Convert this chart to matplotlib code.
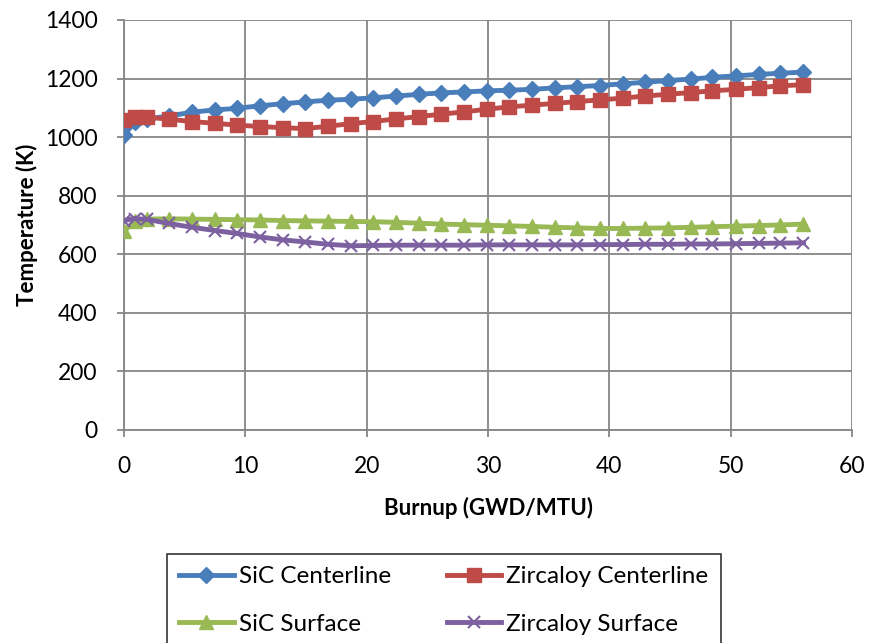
import matplotlib
matplotlib.use("Agg")
import matplotlib.pyplot as plt

plt.rcParams['font.family'] = ['Lato', 'DejaVu Sans']

# burnup points (GWD/MTU)
burnup = [0, 0.9, 1.9, 3.7, 5.6, 7.5, 9.3, 11.2, 13.1, 14.9, 16.8, 18.7,
          20.5, 22.4, 24.3, 26.1, 28.0, 29.9, 31.7, 33.6, 35.5, 37.3,
          39.2, 41.1, 42.9, 44.8, 46.7, 48.5, 50.4, 52.3, 54.1, 56.0]

sic_center = [1008, 1050, 1062, 1072, 1085, 1093, 1098, 1107, 1114, 1120, 1126, 1129,
              1134, 1140, 1146, 1151, 1154, 1158, 1160, 1163, 1168, 1172,
              1176, 1182, 1187, 1193, 1198, 1204, 1209, 1214, 1218, 1222]
zirc_center = [1058, 1068, 1068, 1061, 1053, 1047, 1041, 1036, 1032, 1029, 1037, 1046,
               1053, 1062, 1070, 1078, 1086, 1095, 1103, 1109, 1115, 1121,
               1127, 1133, 1140, 1146, 1152, 1158, 1163, 1169, 1175, 1179]
sic_surf = [680, 712, 720, 721, 720, 719, 718, 717, 715, 714, 713, 712,
            711, 709, 706, 703, 701, 699, 697, 695, 692, 690,
            688, 688, 689, 690, 692, 694, 696, 698, 700, 703]
zirc_surf = [715, 722, 719, 705, 692, 681, 671, 659, 649, 642, 634, 629,
             630, 631, 631, 631, 631, 632, 632, 632, 632, 632,
             633, 633, 634, 634, 635, 635, 636, 637, 638, 639]

x_ticks = [0, 10, 20, 30, 40, 50, 60]
y_ticks = [0, 200, 400, 600, 800, 1000, 1200, 1400]

fig = plt.figure(figsize=(8.71, 6.43), dpi=100)
ax = fig.add_axes([0.1424, 0.3313, 0.8358, 0.6377])

lw = 3.5
l1, = ax.plot(burnup, sic_center, color='#4A7EBB', lw=lw, marker='D', ms=8.5,
              label='SiC Centerline', zorder=3)
l2, = ax.plot(burnup, zirc_center, color='#BE4B48', lw=lw, marker='s', ms=10.5,
              label='Zircaloy Centerline', zorder=3)
l3, = ax.plot(burnup, sic_surf, color='#98B954', lw=lw, marker='^', ms=10,
              label='SiC Surface', zorder=3)
l4, = ax.plot(burnup, zirc_surf, color='#7D60A0', lw=lw, marker='x', ms=9, mew=1.5,
              label='Zircaloy Surface', zorder=3)

ax.set_xlim(0, 60)
ax.set_ylim(0, 1400)
ax.set_xticks(x_ticks)
ax.set_yticks(y_ticks)
ax.grid(True, color='#868686', lw=1.3)
ax.set_axisbelow(True)
for side in ['top', 'right']:
    ax.spines[side].set_visible(False)
for side in ['left', 'bottom']:
    ax.spines[side].set_color('#868686')
    ax.spines[side].set_linewidth(1.3)
ax.tick_params(axis='both', labelsize=16.5, colors='#868686', labelcolor='black',
               length=5, width=1.3)
ax.tick_params(axis='x', pad=14)
ax.tick_params(axis='y', pad=14)

ax.set_xlabel('Burnup (GWD/MTU)', fontsize=16, fontweight='bold', labelpad=14)
ax.set_ylabel('Temperature (K)', fontsize=16, fontweight='bold', labelpad=5)

# column-major order so rows read: centerlines, then surfaces
leg = fig.legend([l1, l3, l2, l4],
                 ['SiC Centerline', 'SiC Surface', 'Zircaloy Centerline', 'Zircaloy Surface'],
                 loc='upper left', bbox_to_anchor=(167 / 871, 1 - 554 / 643),
                 borderaxespad=0, ncol=2, fontsize=17.5, frameon=True, fancybox=False,
                 edgecolor='black', handlelength=2.25, columnspacing=2.3,
                 borderpad=0.5, labelspacing=1.1, handletextpad=0.2)
leg.get_frame().set_linewidth(1.2)

fig.savefig('out.png', dpi=100)
